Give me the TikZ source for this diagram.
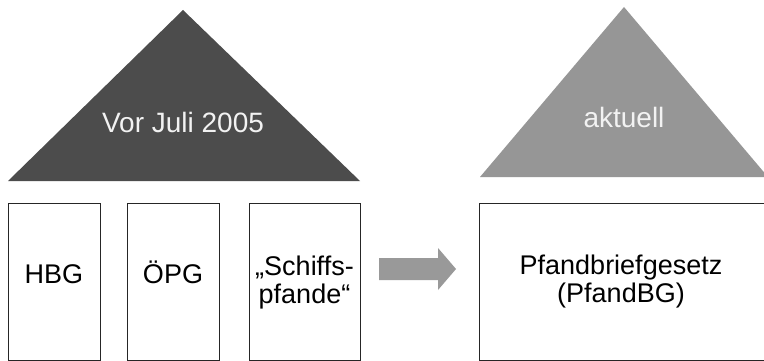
\documentclass[tikz,border=0pt]{standalone}
\usepackage{fontspec}
\setmainfont{Liberation Sans}
\begin{document}
\begin{tikzpicture}[x=1pt,y=-1pt,
  lawbox/.style={draw=black!85,line width=1pt,fill=white,rectangle,inner sep=0pt},
  lbl/.style={inner sep=0pt,anchor=base,align=center,font=\fontsize{27}{28}\selectfont},
  toplbl/.style={inner sep=0pt,anchor=base,text=white!95!black,font=\fontsize{28}{30}\selectfont}]
\clip (0,0) rectangle (764,361);
\fill[white] (0,0) rectangle (764,361);
% triangles
\fill[black!70] (8,181) -- (183,10) -- (360,181) -- cycle;
\fill[black!41] (480,177) -- (624,7) -- (768,177) -- cycle;
\node[toplbl] (vor) at (183,132) {Vor Juli 2005};
\node[toplbl] (akt) at (624,128) {aktuell};
% boxes
\node[lawbox,minimum width=92pt,minimum height=157pt] (hbg) at (54,281.5) {};
\node[lawbox,minimum width=92pt,minimum height=157pt] (opg) at (173,281.5) {};
\node[lawbox,minimum width=111pt,minimum height=157pt] (sch) at (304.5,281.5) {};
\node[lawbox,minimum width=300pt,minimum height=157pt,anchor=west] (pf) at (479,281.5) {};
\node[lbl] (thbg) at (54,283) {HBG};
\node[lbl] (topg) at (173,283) {ÖPG};
\node[lbl] (tsch) at (304.5,303) {„Schiffs-\\pfande“};
\node[lbl] (tpf) at (621,302) {Pfandbriefgesetz\\(PfandBG)};
% arrow
\coordinate (a0) at (379,269);
\coordinate (a1) at (456,269);
\fill[black!40] (379,258) -- (438,258) -- (438,248) -- (a1) -- (438,290) -- (438,280) -- (379,280) -- cycle;
\end{tikzpicture}
\end{document}
